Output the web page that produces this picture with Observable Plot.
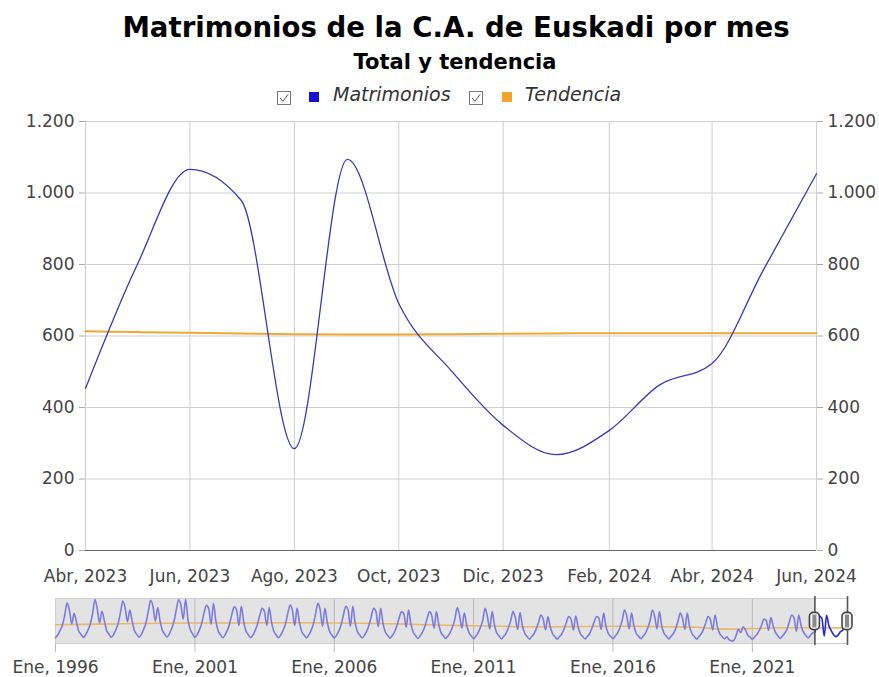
<!DOCTYPE html>
<html>
<head>
<meta charset="utf-8">
<script src="https://cdn.jsdelivr.net/npm/d3@7"></script>
<script src="https://cdn.jsdelivr.net/npm/@observablehq/plot@0.6"></script>
<style>
  body { margin: 0; background: #fff; font-family: "DejaVu Sans", Verdana, sans-serif; }
  #wrap { position: relative; width: 879px; height: 677px; overflow: hidden; background: #fff; }
  .abs { position: absolute; white-space: nowrap; }
  #title { left: 456px; top: 14px; transform: translateX(-50%); font-size: 27.6px; line-height: 28px; font-weight: bold; color: #000; }
  #subtitle { left: 455px; top: 52px; transform: translateX(-50%); font-size: 21px; line-height: 21px; font-weight: bold; color: #000; }
  .leg { font-size: 19px; line-height: 19px; font-style: italic; color: #333; top: 85px; }
  .sw { width: 10px; height: 10px; top: 92px; }
  .cb { top: 91px; }
  #main { left: 0; top: 110px; }
  #nav { left: 0; top: 590px; }
</style>
</head>
<body>
<div id="wrap">
  <div id="title" class="abs">Matrimonios de la C.A. de Euskadi por mes</div>
  <div id="subtitle" class="abs">Total y tendencia</div>
  <svg class="abs cb" style="left:277px" width="14" height="14"><rect x="0.5" y="0.5" width="13" height="13" fill="#fff" stroke="#777"/><path d="M3 7 L6 10.2 L11 3.5" fill="none" stroke="#555" stroke-width="1"/></svg>
  <div class="abs sw" style="left:309px;background:#1414d2"></div>
  <div class="abs leg" style="left:333px">Matrimonios</div>
  <svg class="abs cb" style="left:469px" width="14" height="14"><rect x="0.5" y="0.5" width="13" height="13" fill="#fff" stroke="#777"/><path d="M3 7 L6 10.2 L11 3.5" fill="none" stroke="#555" stroke-width="1"/></svg>
  <div class="abs sw" style="left:502px;background:#f2a52a"></div>
  <div class="abs leg" style="left:525px">Tendencia</div>
  <div id="main" class="abs"></div>
  <div id="nav" class="abs"></div>
</div>
<script>
// ---------- DATA ----------
const monthAbbr = ["Ene","Feb","Mar","Abr","May","Jun","Jul","Ago","Sep","Oct","Nov","Dic"];
const firstYear = 1996;

// Monthly marriages, one row per year (Ene..Dic), 1996 .. 2024 (Jun)
const matrimoniosPorAnio = [
  [230, 340, 500, 720, 1100, 1580, 1300, 760, 1170, 850, 480, 360],   // 1996
  [240, 350, 520, 760, 1150, 1710, 1350, 800, 1250, 900, 500, 370],   // 1997
  [240, 350, 530, 780, 1200, 1650, 1400, 850, 1300, 880, 500, 360],   // 1998
  [240, 360, 550, 800, 1250, 1680, 1450, 870, 1400, 900, 520, 370],   // 1999
  [250, 370, 570, 850, 1300, 1700, 1500, 950, 1720, 950, 540, 380],   // 2000
  [240, 350, 530, 800, 1200, 1490, 1350, 750, 1560, 900, 500, 350],   // 2001
  [230, 340, 510, 770, 1150, 1430, 1300, 700, 1450, 870, 490, 350],   // 2002
  [230, 330, 500, 750, 1100, 1370, 1250, 700, 1400, 850, 480, 340],   // 2003
  [230, 330, 510, 750, 1150, 1500, 1300, 700, 1370, 830, 470, 340],   // 2004
  [220, 330, 490, 750, 1150, 1560, 1300, 670, 1370, 830, 470, 330],   // 2005
  [220, 320, 480, 730, 1100, 1450, 1300, 670, 1450, 810, 460, 330],   // 2006
  [220, 320, 470, 710, 1050, 1370, 1250, 650, 1370, 790, 450, 320],   // 2007
  [210, 310, 450, 690, 1000, 1240, 1150, 630, 1300, 770, 440, 310],   // 2008
  [200, 300, 430, 650, 950, 1240, 1100, 600, 1240, 750, 420, 300],    // 2009
  [200, 300, 430, 650, 950, 1400, 1100, 600, 1180, 750, 420, 300],    // 2010
  [190, 290, 410, 630, 900, 1370, 1050, 570, 1240, 730, 410, 290],    // 2011
  [180, 280, 390, 610, 880, 1240, 1000, 550, 1200, 700, 400, 280],    // 2012
  [170, 270, 370, 570, 820, 1110, 950, 530, 1050, 650, 380, 270],     // 2013
  [170, 270, 370, 570, 820, 1050, 950, 530, 1070, 650, 380, 270],     // 2014
  [180, 280, 380, 590, 850, 1050, 980, 550, 1180, 670, 390, 280],     // 2015
  [190, 290, 400, 610, 900, 1300, 1050, 570, 1180, 700, 400, 290],    // 2016
  [190, 290, 390, 600, 880, 1300, 1050, 570, 1240, 690, 400, 290],    // 2017
  [180, 280, 380, 570, 850, 1180, 980, 550, 1180, 670, 390, 280],     // 2018
  [170, 270, 370, 550, 800, 1050, 940, 530, 1110, 650, 380, 270],     // 2019
  [180, 260, 150, 100, 120, 300, 550, 420, 650, 540, 330, 250],       // 2020
  [170, 260, 350, 500, 700, 950, 900, 520, 1010, 680, 420, 300],      // 2021
  [200, 300, 400, 560, 850, 1110, 1000, 480, 1110, 700, 450, 320],    // 2022
  [220, 310, 400, 453, 797, 1066, 979, 285, 1094, 691, 501, 350],     // 2023
  [268, 336, 462, 523, 785, 1054]                                     // 2024
];

// Trend: value at January of each year 1996..2023
const tendenciaAnual = [730, 745, 760, 775, 790, 795, 800, 800, 805, 805, 800, 790, 770, 740,
                        710, 690, 670, 650, 650, 660, 670, 665, 650, 630, 560, 580, 610, 615];
// Trend, monthly, Abr 2023 .. Jun 2024
const tendenciaReciente = [613, 611, 609, 607, 605, 604, 604, 605, 606, 607, 608, 608, 608, 608, 608];
const inicioReciente = [2023, 3]; // Abr 2023 (year, month index)

const yTicks = [0, 200, 400, 600, 800, 1000, 1200];

// ---------- BUILD ----------
const serie = [];
matrimoniosPorAnio.forEach((row, i) => row.forEach((v, j) => serie.push({date: new Date(Date.UTC(firstYear + i, j, 1)), value: v})));
const startRecent = new Date(Date.UTC(inicioReciente[0], inicioReciente[1], 1));
const mainData = serie.filter(d => d.date >= startRecent);
const trendRecent = tendenciaReciente.map((v, i) => ({date: new Date(Date.UTC(inicioReciente[0], inicioReciente[1] + i, 1)), value: v}));
const trendNav = tendenciaAnual.map((v, i) => ({date: new Date(Date.UTC(firstYear + i, 0, 1)), value: v})).concat(trendRecent);

const selStart = mainData[0].date;
const selEnd = mainData[mainData.length - 1].date;

const esFmt = d3.formatLocale({decimal: ",", thousands: ".", grouping: [3], currency: ["", "€"]}).format(",d");
const dateFmt = d => `${monthAbbr[d.getUTCMonth()]}, ${d.getUTCFullYear()}`;
const xTicks = mainData.filter((d, i) => i % 2 === 0).map(d => d.date);
const navTicks = serie.filter(d => d.date.getUTCMonth() === 0 && (d.date.getUTCFullYear() - firstYear) % 5 === 0).map(d => d.date);

const font = {fontFamily: "'DejaVu Sans', Verdana, sans-serif", fontSize: "17px", color: "#444", background: "transparent", overflow: "visible"};

const main = Plot.plot({
  width: 879, height: 480,
  marginLeft: 85, marginRight: 63, marginTop: 11, marginBottom: 40,
  style: font,
  x: {type: "utc", domain: [selStart, selEnd]},
  y: {domain: [0, 1200]},
  marks: [
    Plot.gridY(yTicks, {stroke: "#cfcfcf", strokeOpacity: 1}),
    Plot.gridX(xTicks, {stroke: "#cfcfcf", strokeOpacity: 1}),
    Plot.axisY(yTicks, {anchor: "left", tickSize: 6, tickPadding: 5, tickFormat: esFmt, stroke: "#aaa", fill: "#444", label: null}),
    Plot.axisY(yTicks, {anchor: "right", tickSize: 6, tickPadding: 5, tickFormat: esFmt, stroke: "#aaa", fill: "#444", label: null}),
    Plot.axisX(xTicks, {anchor: "bottom", tickSize: 0, tickPadding: 19, tickFormat: dateFmt, fill: "#444", label: null}),
    Plot.ruleY([0], {stroke: "#666", strokeWidth: 1.2}),
    Plot.line(trendRecent, {x: "date", y: "value", stroke: "#f0a832", strokeWidth: 2, curve: "monotone-x"}),
    Plot.line(mainData, {x: "date", y: "value", stroke: "#3838b8", strokeWidth: 1.3, curve: "monotone-x"})
  ]
});
document.getElementById("main").appendChild(main);

const nav = Plot.plot({
  width: 879, height: 87,
  marginLeft: 55, marginRight: 32, marginTop: 8, marginBottom: 34,
  style: font,
  x: {type: "utc", domain: [serie[0].date, selEnd]},
  y: {domain: [0, 1750]},
  marks: [
    Plot.rect([{a: serie[0].date, b: selStart}], {x1: "a", x2: "b", y1: 0, y2: 1750, fill: "#e3e3e3"}),
    Plot.gridX(navTicks, {stroke: "#b8b8b8", strokeOpacity: 1}),
    Plot.frame({stroke: "#cfcfcf"}),
    Plot.axisX(navTicks, {anchor: "bottom", tickSize: 9, tickPadding: 8, tickFormat: dateFmt, stroke: "#b8b8b8", fill: "#444", label: null}),
    Plot.axisY([], {anchor: "left", label: null}),
    Plot.line(trendNav, {x: "date", y: "value", stroke: "#e9b86c", strokeWidth: 1.6, curve: "monotone-x"}),
    Plot.line(serie.filter(d => d.date <= selStart), {x: "date", y: "value", stroke: "#7c7ce0", strokeWidth: 1.6, curve: "monotone-x"}),
    Plot.line(mainData, {x: "date", y: "value", stroke: "#2a2ad2", strokeWidth: 1.6, curve: "monotone-x"}),
    Plot.ruleX([selStart, selEnd], {y1: -76, y2: 1826, stroke: "#555", strokeWidth: 1.6}),
    Plot.rect([selStart, selEnd], {x1: d => d, x2: d => d, y1: 521, y2: 1191, insetLeft: -5, insetRight: -5, fill: "#f4f4f4", stroke: "#444", strokeWidth: 1.6, rx: 4}),
    Plot.rect([selStart, selEnd], {x1: d => d, x2: d => d, y1: 608, y2: 1103, insetLeft: -2, insetRight: -2, fill: "#8a8a8a"})
  ]
});
document.getElementById("nav").appendChild(nav);
</script>
</body>
</html>
